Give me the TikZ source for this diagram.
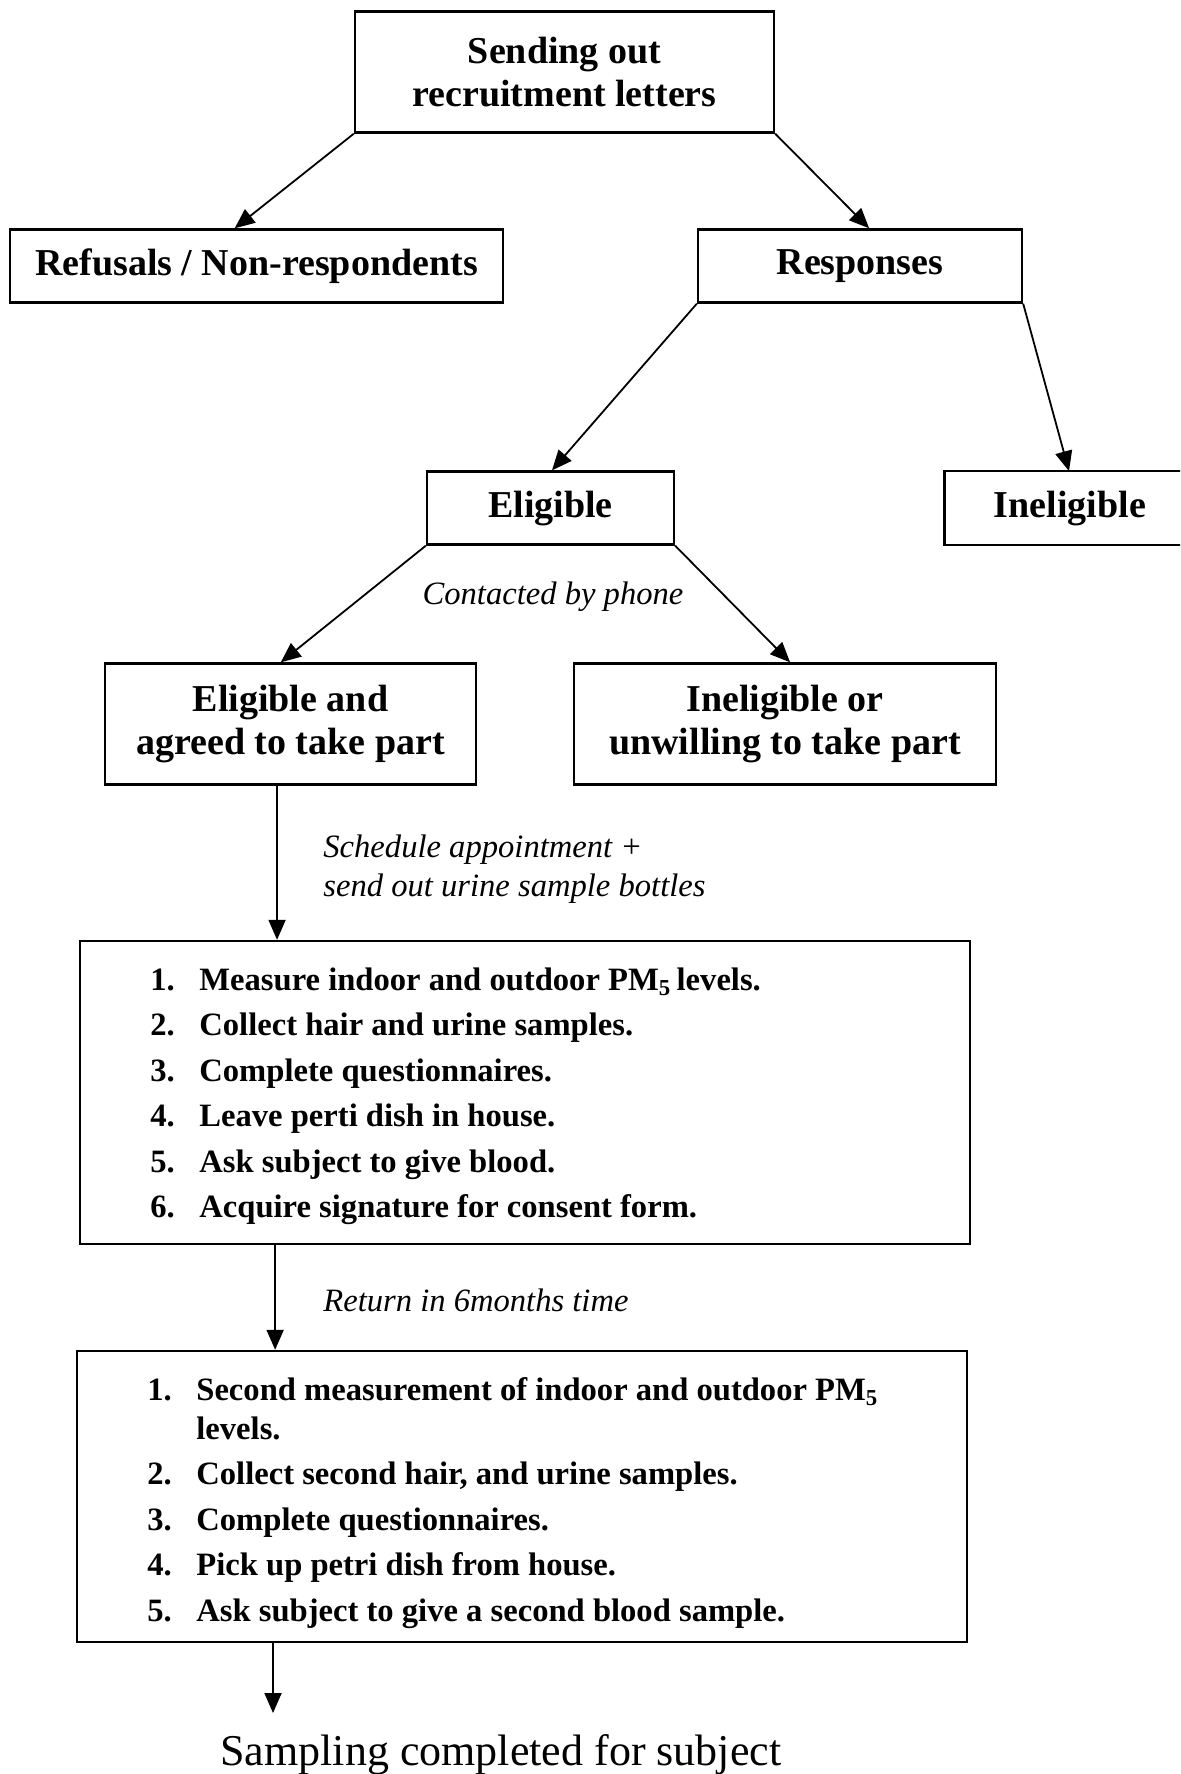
\documentclass[tikz,border=0pt]{standalone}
\usepackage{fontspec}
\setmainfont{Liberation Serif}
\usetikzlibrary{arrows.meta,calc}
\tikzset{
  boxline/.style={line width=1.2pt},
  box/.style={draw, boxline, inner sep=0pt, align=center,
    font=\bfseries\fontsize{19}{21.75}\selectfont},
  openbox/.style={inner sep=0pt, align=center,
    font=\bfseries\fontsize{19}{21.75}\selectfont},
  arr/.style={-{Triangle[length=10pt,width=8.5pt]}, line width=0.9pt},
  lbl/.style={inner sep=0pt, font=\itshape\fontsize{16.3}{19.25}\selectfont},
  listtext/.style={inner sep=0pt, font=\bfseries\fontsize{16.3}{19.5}\selectfont},
}
\begin{document}
\begin{tikzpicture}[x=0.5pt,y=-0.5pt]
\useasboundingbox (0,0) rectangle (1180,1774);
\clip (0,0) rectangle (1180,1774);
% boxes
\node[box, minimum width=209.5pt, minimum height=60.5pt] (top) at (564.5,72) {Sending out\\recruitment letters};
\node[box, minimum width=246.5pt, minimum height=36.5pt] (refusals) at (256.5,266) {Refusals / Non-respondents};
\node[box, minimum width=162pt, minimum height=36.5pt] (responses) at (860,266) {Responses};
\node[box, minimum width=123.5pt, minimum height=36.5pt] (eligible) at (550.5,508) {Eligible};
\node[openbox, minimum width=125pt, minimum height=36.5pt] (ineligible) at (1070,508) {Ineligible};
\draw[boxline] (ineligible.north east) -- (ineligible.north west) -- (ineligible.south west) -- (ineligible.south east);
\node[box, minimum width=185.5pt, minimum height=60.5pt] (agreed) at (290.5,724) {Eligible and\\agreed to take part};
\node[box, minimum width=211pt, minimum height=60.5pt] (unwilling) at (785,724) {Ineligible or\\unwilling to take part};
\node[box, minimum width=445pt, minimum height=151.5pt] (list1) at (525,1092.5) {};
\node[box, minimum width=445pt, minimum height=145.5pt] (list2) at (522,1496.5) {};
% list texts
\node[listtext, anchor=base west] (items1) at (150,990) {%
\begin{tabular}[t]{@{}p{24.5pt}@{}l@{}}
1. & Measure indoor and outdoor PM\textsubscript{5}\,levels.\\[3.25pt]
2. & Collect hair and urine samples.\\[3.25pt]
3. & Complete questionnaires.\\[3.25pt]
4. & Leave perti dish in house.\\[3.25pt]
5. & Ask subject to give blood.\\[3.25pt]
6. & Acquire signature for consent form.
\end{tabular}};
\node[listtext, anchor=base west] (items2) at (147,1400) {%
\begin{tabular}[t]{@{}p{24.5pt}@{}l@{}}
1. & Second measurement of indoor and outdoor PM\textsubscript{5}\\
   & levels.\\[3.25pt]
2. & Collect second hair, and urine samples.\\[3.25pt]
3. & Complete questionnaires.\\[3.25pt]
4. & Pick up petri dish from house.\\[3.25pt]
5. & Ask subject to give a second blood sample.
\end{tabular}};
% labels
\node[lbl] (contact) at (553,597) {Contacted by phone};
\node[lbl, anchor=west, align=left] (sched) at (323,869) {Schedule appointment +\\send out urine sample bottles};
\node[lbl, anchor=west] (ret) at (323,1300) {Return in 6months time};
\node[inner sep=0pt, anchor=base west, font=\fontsize{22}{26}\selectfont] (done) at (220,1765) {Sampling completed for subject};
\coordinate (finish) at (274,1713);
% connectors
\draw[arr] (top.south west) -- ($(refusals.north west)!0.456!(refusals.north east)$);
\draw[arr] (top.south east) -- ($(responses.north west)!0.528!(responses.north east)$);
\draw[arr] (responses.south west) -- ($(eligible.north west)!0.506!(eligible.north east)$);
\draw[arr] (responses.south east) -- ($(ineligible.north west)!0.496!(ineligible.north east)$);
\draw[arr] (eligible.south west) -- ($(agreed.north west)!0.474!(agreed.north east)$);
\draw[arr] (eligible.south east) -- ($(unwilling.north west)!0.512!(unwilling.north east)$);
\coordinate (a1) at ($(agreed.south west)!0.464!(agreed.south east)$);
\draw[arr] (a1) -- (a1 |- list1.north);
\coordinate (b1) at ($(list1.south west)!0.22!(list1.south east)$);
\draw[arr] (b1) -- (b1 |- list2.north);
\coordinate (c1) at ($(list2.south west)!0.221!(list2.south east)$);
\draw[arr] (c1) -- (c1 |- finish);
\end{tikzpicture}
\end{document}
